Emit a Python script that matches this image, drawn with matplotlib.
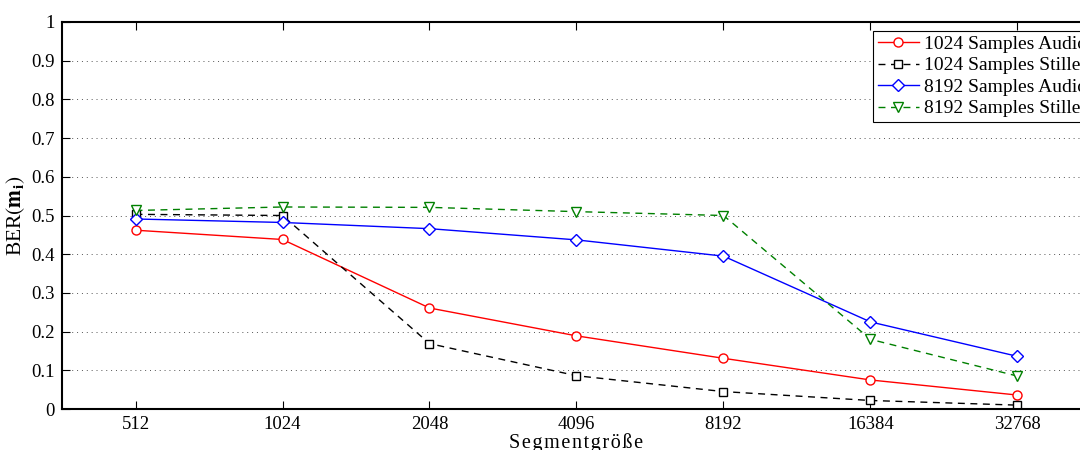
#plot.py
#BER over segment size
import matplotlib
matplotlib.use("Agg")
import matplotlib.pyplot as plt
import numpy as np

#data
segmente = ["512", "1024", "2048", "4096", "8192", "16384", "32768"]
audio_1024 = [0.462, 0.438, 0.261, 0.189, 0.131, 0.075, 0.036]
stille_1024 = [0.503, 0.500, 0.169, 0.086, 0.045, 0.022, 0.010]
audio_8192 = [0.491, 0.482, 0.466, 0.437, 0.395, 0.225, 0.136]
stille_8192 = [0.513, 0.522, 0.521, 0.510, 0.500, 0.180, 0.085]

plt.rcParams["font.family"] = ["Liberation Serif", "DejaVu Serif"]
plt.rcParams["mathtext.fontset"] = "stix"

fig = plt.figure(figsize=(10.8, 4.5), dpi=100)
ax = fig.add_axes([62 / 1080, 41 / 450, 1029 / 1080, 387 / 450])

x = np.arange(len(segmente))
ms = 6.5
ax.plot(x, audio_1024, "-o", color="red", lw=1.0, ms=ms, mfc="white",
        mew=1.0, label="1024 Samples Audio")
ax.plot(x, stille_1024, "--s", color="black", lw=1.0, ms=5.5, mfc="white",
        mew=1.0, dashes=(5, 4), label="1024 Samples Stille")
ax.plot(x, audio_8192, "-D", color="blue", lw=1.0, ms=6, mfc="white",
        mew=1.0, label="8192 Samples Audio")
ax.plot(x, stille_8192, "--v", color="green", lw=1.0, ms=ms, mfc="white",
        mew=1.0, dashes=(5, 4), label="8192 Samples Stille")

ax.set_xlim(-0.5, len(segmente) - 0.5)
ax.set_ylim(0, 1)
ax.set_xticks(x)
ax.set_xticklabels(segmente)
ax.set_yticks(np.arange(0, 1.01, 0.1))
ax.set_yticklabels(["0", "0.1", "0.2", "0.3", "0.4", "0.5", "0.6", "0.7", "0.8", "0.9", "1"])
ax.tick_params(direction="in", top=True, right=True, labelsize=13.5, length=6, width=0.8, pad=5)
ax.yaxis.grid(True, linestyle=(0, (1, 4)), color="#555555", lw=0.7)
for s in ax.spines.values():
    s.set_linewidth(1.5)

ax.set_xlabel("S e g m e n t g r ö ß e".replace(" ", "\u200a"), fontsize=14.5, labelpad=0)
ax.set_ylabel(r"BER$(\mathbf{m}_\mathbf{i})$", fontsize=15.5, labelpad=3)

leg = ax.legend(loc="upper left", bbox_to_anchor=(0.788, 0.978), fontsize=14,
                fancybox=False, edgecolor="black", framealpha=1,
                borderaxespad=0, handlelength=2.1, labelspacing=0.2,
                borderpad=0.25, handletextpad=0.3)
leg.get_frame().set_linewidth(0.8)

plt.savefig("out.png", dpi=100)
